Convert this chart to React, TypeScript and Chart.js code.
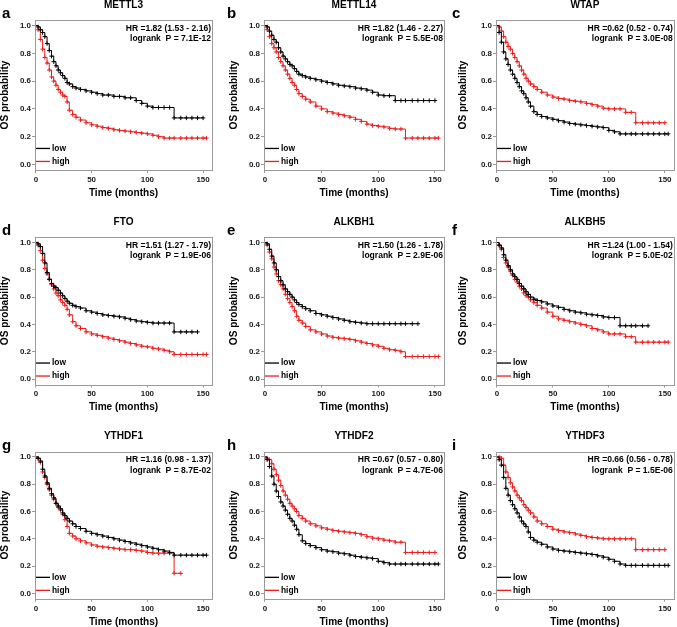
import React, { useEffect, useRef } from 'react';
import { Chart, registerables } from 'chart.js';

Chart.register(...registerables);

// ---------------- data ----------------
const MONTHS = [0, 2, 4, 6, 8, 10, 12, 14, 16, 18, 20, 22, 24, 26, 28, 30, 33, 36, 40, 45, 50, 55, 60, 65, 70, 75, 80, 85, 90, 95, 100, 105, 110, 115, 120, 124, 130, 135, 140, 145, 150, 153];
const X_TICKS = [0, 50, 100, 150];
const Y_TICKS = [0, 0.2, 0.4, 0.6, 0.8, 1.0];
const SERIES_LABELS = ['low', 'high'];

const GENES = ['METTL3', 'METTL14', 'WTAP', 'FTO', 'ALKBH1', 'ALKBH5', 'YTHDF1', 'YTHDF2', 'YTHDF3'];
const LETTERS = ['a', 'b', 'c', 'd', 'e', 'f', 'g', 'h', 'i'];
const HR_TEXT = [
  'HR =1.82 (1.53 - 2.16)', 'HR =1.82 (1.46 - 2.27)', 'HR =0.62 (0.52 - 0.74)',
  'HR =1.51 (1.27 - 1.79)', 'HR =1.50 (1.26 - 1.78)', 'HR =1.24 (1.00 - 1.54)',
  'HR =1.16 (0.98 - 1.37)', 'HR =0.67 (0.57 - 0.80)', 'HR =0.66 (0.56 - 0.78)',
];
const P_TEXT = [
  'logrank  P = 7.1E-12', 'logrank  P = 5.5E-08', 'logrank  P = 3.0E-08',
  'logrank  P = 1.9E-06', 'logrank  P = 2.9E-06', 'logrank  P = 5.0E-02',
  'logrank  P = 8.7E-02', 'logrank  P = 4.7E-06', 'logrank  P = 1.5E-06',
];

const mettl3Low = [1.0, 0.99, 0.97, 0.95, 0.92, 0.87, 0.82, 0.78, 0.74, 0.71, 0.68, 0.66, 0.64, 0.62, 0.59, 0.58, 0.56, 0.55, 0.54, 0.53, 0.52, 0.51, 0.50, 0.50, 0.49, 0.49, 0.48, 0.48, 0.46, 0.44, 0.42, 0.41, 0.41, 0.41, 0.41, 0.335, 0.335, 0.335, 0.335, 0.335, 0.335];
const mettl3High = [1.0, 0.97, 0.90, 0.83, 0.77, 0.73, 0.68, 0.63, 0.60, 0.57, 0.54, 0.52, 0.50, 0.49, 0.45, 0.39, 0.36, 0.34, 0.32, 0.30, 0.285, 0.275, 0.265, 0.26, 0.25, 0.245, 0.24, 0.235, 0.23, 0.225, 0.22, 0.21, 0.20, 0.19, 0.19, 0.19, 0.19, 0.19, 0.19, 0.19, 0.19, 0.19];
const mettl14Low = [1.0, 0.99, 0.96, 0.93, 0.90, 0.88, 0.84, 0.81, 0.78, 0.76, 0.74, 0.72, 0.71, 0.69, 0.67, 0.65, 0.64, 0.63, 0.62, 0.61, 0.60, 0.59, 0.58, 0.57, 0.565, 0.56, 0.55, 0.545, 0.535, 0.52, 0.50, 0.495, 0.495, 0.46, 0.46, 0.46, 0.46, 0.46, 0.46, 0.46, 0.46];
const mettl14High = [1.0, 0.97, 0.92, 0.87, 0.84, 0.81, 0.77, 0.74, 0.71, 0.68, 0.65, 0.62, 0.59, 0.57, 0.54, 0.51, 0.49, 0.47, 0.45, 0.42, 0.40, 0.38, 0.37, 0.36, 0.35, 0.34, 0.325, 0.31, 0.29, 0.28, 0.275, 0.27, 0.26, 0.255, 0.255, 0.19, 0.19, 0.19, 0.19, 0.19, 0.19, 0.19];
const wtapLow = [1.0, 0.95, 0.88, 0.81, 0.76, 0.72, 0.68, 0.65, 0.62, 0.59, 0.56, 0.53, 0.51, 0.48, 0.45, 0.42, 0.38, 0.36, 0.345, 0.335, 0.325, 0.315, 0.305, 0.295, 0.29, 0.285, 0.28, 0.275, 0.27, 0.265, 0.245, 0.235, 0.22, 0.22, 0.22, 0.22, 0.22, 0.22, 0.22, 0.22, 0.22, 0.22];
const wtapHigh = [1.0, 0.99, 0.96, 0.92, 0.88, 0.85, 0.83, 0.80, 0.77, 0.74, 0.71, 0.68, 0.65, 0.62, 0.60, 0.58, 0.56, 0.54, 0.52, 0.50, 0.485, 0.475, 0.47, 0.46, 0.455, 0.45, 0.44, 0.43, 0.42, 0.405, 0.40, 0.40, 0.40, 0.375, 0.375, 0.30, 0.30, 0.30, 0.30, 0.30, 0.30];
const ftoLow = [1.0, 0.99, 0.97, 0.92, 0.85, 0.78, 0.73, 0.70, 0.68, 0.67, 0.65, 0.63, 0.61, 0.59, 0.57, 0.555, 0.54, 0.53, 0.52, 0.50, 0.49, 0.48, 0.47, 0.465, 0.46, 0.455, 0.445, 0.435, 0.425, 0.42, 0.415, 0.41, 0.41, 0.41, 0.41, 0.345, 0.345, 0.345, 0.345, 0.345];
const ftoHigh = [1.0, 0.98, 0.94, 0.87, 0.81, 0.77, 0.73, 0.69, 0.66, 0.63, 0.61, 0.58, 0.56, 0.54, 0.51, 0.47, 0.42, 0.39, 0.37, 0.345, 0.33, 0.32, 0.31, 0.30, 0.29, 0.28, 0.27, 0.26, 0.25, 0.24, 0.235, 0.225, 0.22, 0.21, 0.20, 0.18, 0.18, 0.18, 0.18, 0.18, 0.18, 0.18];
const alkbh1Low = [1.0, 0.99, 0.95, 0.90, 0.85, 0.80, 0.75, 0.72, 0.69, 0.66, 0.64, 0.62, 0.60, 0.58, 0.56, 0.545, 0.53, 0.515, 0.50, 0.48, 0.47, 0.46, 0.45, 0.44, 0.43, 0.42, 0.415, 0.41, 0.405, 0.405, 0.405, 0.405, 0.405, 0.405, 0.405, 0.405, 0.405, 0.405];
const alkbh1High = [1.0, 0.98, 0.93, 0.88, 0.82, 0.77, 0.72, 0.69, 0.66, 0.62, 0.59, 0.56, 0.53, 0.50, 0.46, 0.43, 0.41, 0.385, 0.36, 0.345, 0.33, 0.315, 0.305, 0.30, 0.295, 0.29, 0.28, 0.27, 0.26, 0.25, 0.24, 0.225, 0.215, 0.21, 0.20, 0.165, 0.165, 0.165, 0.165, 0.165, 0.165, 0.165];
const alkbh5Low = [1.0, 0.98, 0.96, 0.91, 0.87, 0.83, 0.80, 0.77, 0.75, 0.73, 0.70, 0.68, 0.66, 0.64, 0.62, 0.60, 0.585, 0.575, 0.565, 0.55, 0.535, 0.525, 0.51, 0.50, 0.49, 0.485, 0.475, 0.47, 0.465, 0.455, 0.45, 0.45, 0.39, 0.39, 0.39, 0.39, 0.39, 0.39];
const alkbh5High = [1.0, 0.98, 0.95, 0.89, 0.85, 0.82, 0.79, 0.76, 0.73, 0.71, 0.68, 0.66, 0.63, 0.61, 0.60, 0.58, 0.56, 0.54, 0.52, 0.49, 0.46, 0.44, 0.43, 0.42, 0.41, 0.40, 0.39, 0.37, 0.36, 0.345, 0.33, 0.33, 0.33, 0.31, 0.31, 0.27, 0.27, 0.27, 0.27, 0.27, 0.27, 0.27];
const ythdf1Low = [1.0, 0.99, 0.97, 0.91, 0.86, 0.81, 0.77, 0.73, 0.70, 0.66, 0.64, 0.62, 0.59, 0.57, 0.55, 0.53, 0.51, 0.49, 0.475, 0.455, 0.44, 0.43, 0.42, 0.41, 0.40, 0.39, 0.38, 0.37, 0.36, 0.35, 0.34, 0.33, 0.32, 0.31, 0.30, 0.28, 0.28, 0.28, 0.28, 0.28, 0.28, 0.28];
const ythdf1High = [1.0, 0.99, 0.96, 0.89, 0.85, 0.80, 0.76, 0.72, 0.69, 0.66, 0.63, 0.61, 0.58, 0.54, 0.49, 0.44, 0.42, 0.40, 0.385, 0.37, 0.355, 0.345, 0.34, 0.335, 0.33, 0.325, 0.32, 0.32, 0.315, 0.31, 0.30, 0.295, 0.295, 0.295, 0.295, 0.147, 0.147];
const ythdf2Low = [1.0, 0.98, 0.93, 0.86, 0.80, 0.75, 0.71, 0.67, 0.64, 0.61, 0.58, 0.55, 0.53, 0.50, 0.47, 0.43, 0.385, 0.365, 0.35, 0.335, 0.32, 0.31, 0.305, 0.295, 0.29, 0.28, 0.27, 0.265, 0.26, 0.255, 0.235, 0.225, 0.215, 0.215, 0.215, 0.215, 0.215, 0.215, 0.215, 0.215, 0.215, 0.215];
const ythdf2High = [1.0, 0.99, 0.98, 0.95, 0.91, 0.87, 0.83, 0.79, 0.75, 0.72, 0.69, 0.66, 0.64, 0.62, 0.60, 0.57, 0.55, 0.53, 0.51, 0.495, 0.48, 0.47, 0.46, 0.455, 0.45, 0.445, 0.44, 0.43, 0.415, 0.405, 0.40, 0.39, 0.385, 0.375, 0.375, 0.30, 0.30, 0.30, 0.30, 0.30, 0.30];
const ythdf3Low = [1.0, 0.98, 0.94, 0.85, 0.77, 0.72, 0.68, 0.65, 0.62, 0.59, 0.56, 0.53, 0.51, 0.49, 0.45, 0.41, 0.39, 0.375, 0.36, 0.34, 0.325, 0.315, 0.31, 0.305, 0.30, 0.295, 0.29, 0.285, 0.275, 0.265, 0.25, 0.235, 0.215, 0.205, 0.205, 0.205, 0.205, 0.205, 0.205, 0.205, 0.205, 0.205];
const ythdf3High = [1.0, 1.0, 0.99, 0.94, 0.89, 0.85, 0.81, 0.78, 0.75, 0.72, 0.70, 0.68, 0.65, 0.63, 0.61, 0.59, 0.56, 0.53, 0.51, 0.49, 0.47, 0.46, 0.45, 0.445, 0.435, 0.425, 0.415, 0.41, 0.405, 0.40, 0.40, 0.40, 0.40, 0.40, 0.40, 0.32, 0.32, 0.32, 0.32, 0.32, 0.32];

const LOW_SERIES = [mettl3Low, mettl14Low, wtapLow, ftoLow, alkbh1Low, alkbh5Low, ythdf1Low, ythdf2Low, ythdf3Low];
const HIGH_SERIES = [mettl3High, mettl14High, wtapHigh, ftoHigh, alkbh1High, alkbh5High, ythdf1High, ythdf2High, ythdf3High];

// ---------------- style / layout ----------------
const LOW_COLOR = '#000000';
const HIGH_COLOR = '#ee1c1c';
const BOX_COLOR = '#9a9a9a';
const TICK_TEXT = '#1a1a1a';

function fontInstalled(name: string): boolean {
  try {
    const ctx = document.createElement('canvas').getContext('2d');
    if (!ctx) return false;
    const s = 'Time (months) OS probability 0.123';
    ctx.font = 'bold 20px monospace';
    const a = ctx.measureText(s).width;
    ctx.font = `bold 20px "${name}", monospace`;
    const b = ctx.measureText(s).width;
    return Math.abs(a - b) > 0.5;
  } catch (e) {
    return false;
  }
}
const HAS_NARROW = fontInstalled('Liberation Sans Narrow');
const FAMILY = HAS_NARROW ? '"Liberation Sans Narrow", "Liberation Sans", Arial, sans-serif' : '"Liberation Sans", Arial, sans-serif';
const K = HAS_NARROW ? 1 : 0.84;
const WIDE_FAMILY = '"Liberation Sans", Arial, sans-serif';

const COLS = [
  { left: 0, width: 225, padLeft: 0, axisW: 35, padRight: 13 },
  { left: 225, width: 225, padLeft: 4, axisW: 35, padRight: 6 },
  { left: 450, width: 227, padLeft: 8, axisW: 38, padRight: 2 },
];
const ROWS = [
  { top: 0, height: 205, boxTop: 20, boxBottom: 170 },
  { top: 205, height: 210, boxTop: 32, boxBottom: 179.5 },
  { top: 415, height: 212, boxTop: 36.5, boxBottom: 183.8 },
];
const X_AXIS_H = 28;

const decorPlugin = {
  id: 'panelDecor',
  afterDraw(chart: any) {
    const o = chart.options.plugins.panelDecor;
    const { ctx, chartArea: ca } = chart;
    ctx.save();
    // box
    ctx.strokeStyle = BOX_COLOR;
    ctx.lineWidth = 1;
    ctx.strokeRect(Math.round(ca.left) + 0.5, Math.round(ca.top) + 0.5, Math.round(ca.right - ca.left), Math.round(ca.bottom - ca.top));
    // title
    ctx.fillStyle = '#000';
    ctx.textBaseline = 'middle';
    ctx.textAlign = 'center';
    ctx.font = `bold ${12 * K}px ${FAMILY}`;
    ctx.fillText(o.title, (ca.left + ca.right) / 2, ca.top - 15);
    // panel letter
    ctx.textAlign = 'left';
    ctx.font = `bold 15px ${WIDE_FAMILY}`;
    ctx.fillText(o.letter, 2, ca.top - 6);
    // HR + logrank
    ctx.textAlign = 'right';
    ctx.font = `bold ${10.2 * K}px ${FAMILY}`;
    ctx.fillText(o.hr, ca.right - 1, ca.top + 8.5);
    ctx.fillText(o.p, ca.right - 1, ca.top + 19);
    // legend
    const y0 = chart.scales.y.getPixelForValue(0);
    const ys = [y0 - 16, y0 - 3];
    ctx.font = `bold ${10 * K}px ${FAMILY}`;
    ctx.textAlign = 'left';
    chart.data.datasets.forEach((ds: any, i: number) => {
      ctx.strokeStyle = ds.borderColor;
      ctx.lineWidth = 1.3;
      ctx.beginPath();
      ctx.moveTo(ca.left + 1, ys[i]);
      ctx.lineTo(ca.left + 15, ys[i]);
      ctx.stroke();
      ctx.fillStyle = '#000';
      ctx.fillText(ds.label, ca.left + 17, ys[i]);
    });
    ctx.restore();
  },
};

function toPoints(values: number[]) {
  return values.map((v, i) => ({ x: MONTHS[i], y: v }));
}

function makeDataset(label: string, values: number[], color: string) {
  return {
    label,
    data: toPoints(values),
    borderColor: color,
    backgroundColor: color,
    borderWidth: 1,
    stepped: 'before' as const,
    fill: false,
    pointStyle: 'cross' as const,
    pointRadius: (c: any) => (c.dataIndex === 0 ? 0 : 2.2),
    pointBorderColor: color,
    pointBorderWidth: 1,
    pointHoverRadius: 0,
  };
}

function Panel({ idx }: { idx: number }) {
  const ref = useRef<HTMLCanvasElement>(null);
  const col = COLS[idx % 3];
  const row = ROWS[Math.floor(idx / 3)];
  useEffect(() => {
    const canvas = ref.current;
    if (!canvas) return;
    const tickFont = { family: FAMILY, size: 9.5 * K, weight: 'bold' as const };
    const titleFont = { family: FAMILY, size: 12 * K, weight: 'bold' as const, lineHeight: 1 };
    const gridOpts = { display: true, drawOnChartArea: false, drawTicks: true, tickLength: 3, color: BOX_COLOR, lineWidth: 1 };
    const chart = new Chart(canvas, {
      type: 'line',
      data: {
        datasets: [
          makeDataset(SERIES_LABELS[0], LOW_SERIES[idx], LOW_COLOR),
          makeDataset(SERIES_LABELS[1], HIGH_SERIES[idx], HIGH_COLOR),
        ],
      },
      options: {
        responsive: false,
        animation: false,
        events: [],
        devicePixelRatio: 1,
        layout: {
          padding: {
            left: col.padLeft,
            right: col.padRight,
            top: row.boxTop,
            bottom: row.height - row.boxBottom - X_AXIS_H,
          },
        },
        plugins: {
          legend: { display: false },
          tooltip: { enabled: false },
          title: { display: false },
          panelDecor: { title: GENES[idx], letter: LETTERS[idx], hr: HR_TEXT[idx], p: P_TEXT[idx] },
        } as any,
        scales: {
          x: {
            type: 'linear',
            min: -0.8,
            max: 158,
            afterBuildTicks: (axis: any) => { axis.ticks = X_TICKS.map((v) => ({ value: v })); },
            afterFit: (s: any) => { s.height = X_AXIS_H; },
            grid: gridOpts,
            border: { display: false },
            ticks: { font: tickFont, color: TICK_TEXT, padding: 2, maxRotation: 0, autoSkip: false, callback: (v: any) => String(v) },
            title: { display: true, text: 'Time (months)', font: titleFont, color: '#000', padding: 0 },
          },
          y: {
            type: 'linear',
            min: -0.04,
            max: 1.04,
            afterBuildTicks: (axis: any) => { axis.ticks = Y_TICKS.map((v) => ({ value: v })); },
            afterFit: (s: any) => { s.width = col.axisW; },
            grid: gridOpts,
            border: { display: false },
            ticks: { font: tickFont, color: TICK_TEXT, padding: 1, autoSkip: false, callback: (v: any) => Number(v).toFixed(1) },
            title: { display: true, text: 'OS probability', font: titleFont, color: '#000', padding: 0 },
          },
        },
      } as any,
      plugins: [decorPlugin],
    });
    return () => chart.destroy();
  }, [idx]);
  return (
    <canvas
      ref={ref}
      width={col.width}
      height={row.height}
      style={{ position: 'absolute', left: col.left, top: row.top, width: col.width, height: row.height }}
    />
  );
}

export default function App() {
  return (
    <div style={{ position: 'absolute', left: 0, top: 0, width: 677, height: 627, background: '#ffffff', overflow: 'hidden' }}>
      {GENES.map((g, i) => (
        <Panel key={g} idx={i} />
      ))}
    </div>
  );
}
